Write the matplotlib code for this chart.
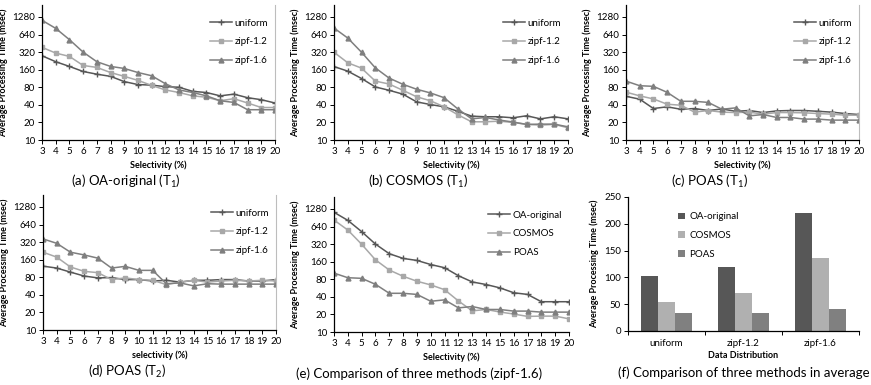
import matplotlib
matplotlib.use("Agg")
import matplotlib.pyplot as plt
from matplotlib.ticker import FixedLocator, FixedFormatter, NullLocator, NullFormatter
import numpy as np

plt.rcParams['font.family'] = ['Lato', 'DejaVu Sans']
plt.rcParams['mathtext.fontset'] = 'custom'
plt.rcParams['mathtext.rm'] = 'Lato'
plt.rcParams['mathtext.it'] = 'Lato'

selectivity = list(range(3, 21))
y_ticks = [10, 20, 40, 80, 160, 320, 640, 1280]

# (a) OA-original, T1
oa_uniform = [277, 219, 182, 149, 134, 123, 100, 89, 87, 82, 80, 68, 65, 57, 61, 53, 49, 43]
oa_zipf12 = [386, 308, 270, 189, 175, 143, 123, 105, 86, 72, 65, 57, 54, 47, 51, 43, 36, 36]
oa_zipf16 = [1122, 816, 523, 320, 219, 182, 168, 143, 126, 92, 72, 65, 57, 47, 44, 33, 33, 33]

# (b) COSMOS, T1
cos_uniform = [181, 151, 113, 81, 71, 61, 45, 40.5, 37, 31, 25.6, 25, 25, 24, 26, 23, 25, 23]
cos_zipf12 = [318, 210, 170, 102, 91, 71, 55, 47, 37, 27, 20.5, 20.5, 21, 20, 18.5, 18, 18.5, 16.2]
cos_zipf16 = [826, 557, 318, 172, 115, 90, 74, 64, 53, 34, 23, 24.3, 22, 20.3, 18.5, 18.7, 18.7, 16.8]

# (c) POAS, T1
poas_uniform = [56, 50, 34.6, 37, 33.6, 34.6, 32, 34, 31, 32, 29.5, 31.5, 32, 32, 31, 30, 28.4, 27.3]
poas_zipf12 = [66, 57, 50.5, 41, 39.4, 30, 32, 30, 29.5, 30, 27.7, 29.5, 29.5, 29.2, 28.4, 27.7, 26.6, 26.6]
poas_zipf16 = [102, 85, 83, 65.5, 46, 46, 44, 33.6, 35.5, 25.9, 27.3, 24.3, 24.3, 22.8, 22.8, 21.9, 21.9, 21.9]

# (d) POAS, T2
t2_uniform = [124, 115, 98, 84, 78, 79, 73, 73, 69, 71, 66, 71, 71, 73, 73, 69, 69, 73]
t2_zipf12 = [215, 177, 120, 101, 96, 73, 78, 73, 71, 60, 66, 71, 66, 69, 71, 69, 71, 69]
t2_zipf16 = [363, 305, 215, 193, 170, 115, 123, 105, 105, 62, 64, 57, 62, 61, 61, 61, 61, 61]

# (f) averages
distributions = ['uniform', 'zipf-1.2', 'zipf-1.6']
avg_oa = [103, 120, 220]
avg_cosmos = [55, 70, 136]
avg_poas = [33, 34, 41]

dark = '#575757'
light = '#a8a8a8'
mid = '#7f7f7f'

W, H = 871, 385
fig = plt.figure(figsize=(W / 100, H / 100), dpi=100)


def box(x0, x1, ytop, ybot):
    return [x0 / W, 1 - ybot / H, (x1 - x0) / W, (ybot - ytop) / H]


def style_axes(ax, right=False):
    ax.spines['top'].set_visible(False)
    if right:
        ax.spines['right'].set_color('#bdbdbd')
        ax.spines['right'].set_linewidth(0.8)
    else:
        ax.spines['right'].set_visible(False)
    for s in ('left', 'bottom'):
        ax.spines[s].set_linewidth(0.9)
    ax.tick_params(axis='both', labelsize=7, length=3, width=0.7, direction='out', pad=2)


def line_panel(rect, series, labels, xlabel, title, right=False):
    ax = fig.add_axes(rect)
    markers = ['+', 's', '^']
    colors = [dark, light, mid]
    sizes = [4.5, 3.2, 3.5]
    for vals, lab, m, c, ms in zip(series, labels, markers, colors, sizes):
        ax.plot(selectivity, vals, color=c, lw=1.1, marker=m, ms=ms, mew=1.0, label=lab)
    ax.set_yscale('log', base=2)
    ax.set_ylim(10, 2050)
    ax.set_xlim(3, 20)
    ax.yaxis.set_major_locator(FixedLocator(y_ticks))
    ax.yaxis.set_major_formatter(FixedFormatter([str(t) for t in y_ticks]))
    ax.yaxis.set_minor_locator(NullLocator())
    ax.yaxis.set_minor_formatter(NullFormatter())
    ax.set_xticks(selectivity)
    style_axes(ax, right)
    ax.set_ylabel('Average Processing Time (msec)', fontsize=6.5, fontweight='bold', labelpad=3)
    ax.set_xlabel(xlabel, fontsize=6.5, fontweight='bold', labelpad=3)
    ax.legend(loc='upper right', bbox_to_anchor=(1.0, 0.95), frameon=False, fontsize=7,
              handlelength=2.2, labelspacing=1.0, handletextpad=0.3, borderaxespad=0.3)
    ax.text(0.36, -0.31, title, transform=ax.transAxes, ha='center', va='center', fontsize=9.5)
    return ax


dist_labels = ['uniform', 'zipf-1.2', 'zipf-1.6']
line_panel(box(42, 275, 5, 140), [oa_uniform, oa_zipf12, oa_zipf16], dist_labels,
           'Selectivity (%)', '(a) OA-original (T$_1$)', right=True)
line_panel(box(334, 568, 5, 140), [cos_uniform, cos_zipf12, cos_zipf16], dist_labels,
           'Selectivity (%)', '(b) COSMOS (T$_1$)')
line_panel(box(626, 859, 5, 140), [poas_uniform, poas_zipf12, poas_zipf16], dist_labels,
           'Selectivity (%)', '(c) POAS (T$_1$)', right=True)
line_panel(box(43, 276, 195, 330), [t2_uniform, t2_zipf12, t2_zipf16], dist_labels,
           'selectivity (%)', '(d) POAS (T$_2$)', right=True)
line_panel(box(334, 569, 197, 332), [oa_zipf16, cos_zipf16, poas_zipf16],
           ['OA-original', 'COSMOS', 'POAS'],
           'Selectivity (%)', '(e) Comparison of three methods (zipf-1.6)')

# (f) bar chart
ax = fig.add_axes(box(628, 859, 197, 331))
x = np.arange(len(distributions))
bw = 0.22
ax.bar(x - bw, avg_oa, bw, color=dark, label='OA-original')
ax.bar(x, avg_cosmos, bw, color='#b0b0b0', label='COSMOS')
ax.bar(x + bw, avg_poas, bw, color='#808080', label='POAS')
ax.set_xlim(-0.5, 2.5)
ax.set_ylim(0, 250)
ax.set_yticks([0, 50, 100, 150, 200, 250])
ax.set_xticks([-0.5, 0.5, 1.5, 2.5])
ax.set_xticklabels([])
ax.set_xticks(x, minor=True)
ax.set_xticklabels(distributions, minor=True)
style_axes(ax)
ax.tick_params(axis='x', which='minor', length=0, labelsize=7, pad=6)
ax.set_ylabel('Average Processing Time (msec)', fontsize=6.5, fontweight='bold', labelpad=4)
ax.set_xlabel('Data Distribution', fontsize=6.5, fontweight='bold', labelpad=2)
ax.legend(loc='upper left', bbox_to_anchor=(0.18, 0.95), frameon=False, fontsize=7,
          handlelength=0.7, handleheight=0.7, labelspacing=1.0, handletextpad=0.4)
ax.text(0.5, -0.31, '(f) Comparison of three methods in average', transform=ax.transAxes,
        ha='center', va='center', fontsize=9.5)

fig.savefig('out.png', dpi=100)
